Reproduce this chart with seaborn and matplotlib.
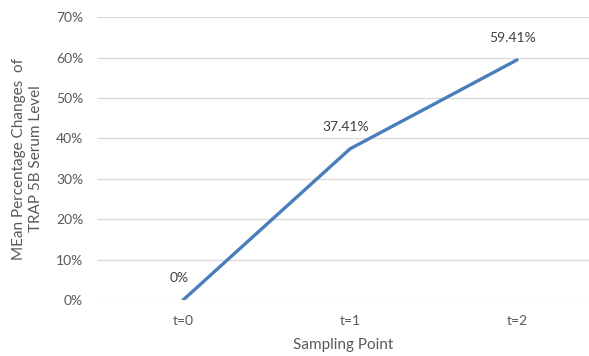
import pandas as pd
import matplotlib.pyplot as plt
import seaborn as sns
from matplotlib.ticker import PercentFormatter

sampling_points = ['t=0', 't=1', 't=2']
mean_change = [0.0, 0.3741, 0.5941]
point_labels = ['0%', '37.41%', '59.41%']

sns.set_style('whitegrid')
plt.rcParams['font.family'] = ['Lato', 'DejaVu Sans']

text_color = '#595959'
grid_color = '#d9d9d9'
line_color = '#4a7ebb'

df = pd.DataFrame({'point': sampling_points, 'change': mean_change})
df['x'] = range(len(df))

fig = plt.figure(figsize=(5.89, 3.56), dpi=100)
ax = fig.add_axes([0.1647, 0.157, 0.8353, 0.795])

sns.lineplot(data=df, x='x', y='change', color=line_color, linewidth=2.4, ax=ax)

for x, y, lab in zip(df['x'], df['change'], point_labels):
    ax.annotate(lab, (x, y), xytext=(-3, 16), textcoords='offset points',
                ha='center', va='center', fontsize=10, color='#404040')

ax.set_xlim(-0.515, 2.431)
ax.set_ylim(0, 0.7)
ax.set_xticks(df['x'])
ax.set_xticklabels(sampling_points)
ax.set_yticks([i / 10 for i in range(8)])
ax.yaxis.set_major_formatter(PercentFormatter(1.0, decimals=0))
ax.grid(axis='x', visible=False)
ax.grid(axis='y', color=grid_color, linewidth=0.9)
for s in ax.spines.values():
    s.set_visible(False)
ax.tick_params(axis='both', length=0, labelsize=10, colors=text_color)
ax.tick_params(axis='y', pad=10)
ax.tick_params(axis='x', pad=11)

ax.set_xlabel('Sampling Point', fontsize=11, color=text_color, labelpad=8)
ax.set_ylabel('MEan Percentage Changes  of\nTRAP 5B Serum Level', fontsize=11,
              color=text_color, labelpad=9, linespacing=1.3)

fig.savefig('out.png', dpi=100)
plt.close(fig)
